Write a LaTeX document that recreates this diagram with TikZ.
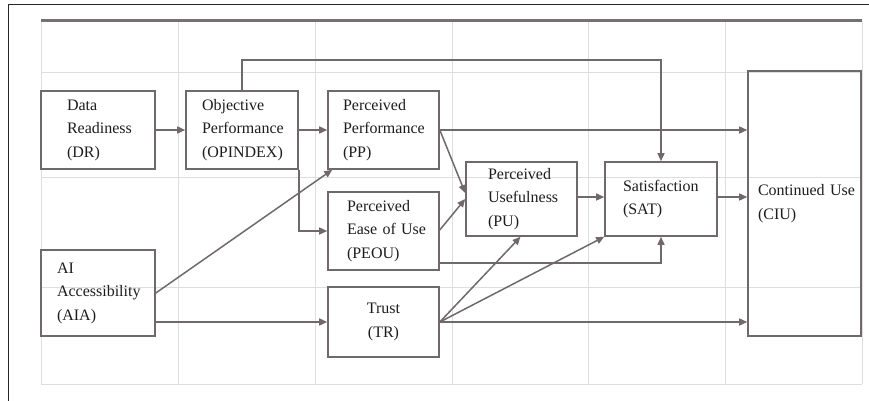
\documentclass[tikz,border=0pt]{standalone}
\usepackage{fontspec}
\setmainfont{Liberation Serif}
\usetikzlibrary{arrows.meta,calc}
\definecolor{boxgray}{RGB}{112,104,108}
\definecolor{gridgray}{RGB}{222,222,222}
\definecolor{rulegray}{RGB}{118,112,115}
\definecolor{inkgray}{RGB}{30,28,30}
\tikzset{
  box/.style={draw=boxgray, line width=1.6pt, text=inkgray,
    font=\fontsize{16}{23.5}\selectfont, align=left,
    inner xsep=0pt, inner ysep=0pt},
  cbox/.style={box, align=center},
  arr/.style={draw=boxgray, line width=1.5pt,
    -{Triangle[length=8pt,width=7pt]}},
  gridline/.style={draw=gridgray, line width=0.8pt},
}
% text set inside a box with a left indent
\newcommand{\indtext}[2]{\leftskip=#1pt\relax #2\par}
\begin{document}
\begin{tikzpicture}[x=1pt,y=-1pt]
\useasboundingbox (0,0) rectangle (869,401);
% page frame
\draw[line width=1pt, black!85] (8,401) -- (8,5) -- (869,5);
% background grid
\foreach \gx in {41,178,315,452,588,725,862}
  \draw[gridline] (\gx,21) -- (\gx,384);
\foreach \gy in {72,177,287,384}
  \draw[gridline] (41,\gy) -- (862,\gy);
\draw[draw=rulegray, line width=3pt] (41,21) -- (862,21);

% constructs
\node[box, minimum height=78pt, text width=114pt]
  (dr) at (98,130) {\indtext{26}{Data\\Readiness\\(DR)}};
\node[box, minimum height=78pt, text width=112pt]
  (op) at (242,130) {\indtext{16}{Objective\\Performance\\(OPINDEX)}};
\node[box, minimum height=78pt, text width=111pt]
  (pp) at (383.5,130) {\indtext{15}{Perceived\\Performance\\(PP)}};
\node[box, minimum height=78pt, text width=111pt]
  (peou) at (383.5,231) {\indtext{19}{Perceived\\Ease of Use\\(PEOU)}};
\node[cbox, minimum height=70pt, text width=111pt]
  (tr) at (383.5,322) {Trust\\(TR)};
\node[box, minimum height=86pt, text width=114pt]
  (aia) at (98,293) {\indtext{16}{AI\\Accessibility\\(AIA)}};
\node[box, minimum height=74pt, text width=111pt]
  (pu) at (521.5,199) {\indtext{22}{Perceived\\Usefulness\\(PU)}};
\node[box, minimum height=74pt, text width=112pt]
  (sat) at (661,199) {\indtext{18}{Satisfaction\\(SAT)}};
\node[box, minimum height=265pt, text width=113pt]
  (ciu) at (804.5,203.5) {\indtext{10}{Continued Use\\(CIU)}};

% paths
\draw[arr] (dr.east) -- (op.west);
\draw[arr] (op.east) -- (pp.west);
\draw[arr] (op.north) -- ++(0,-30) -| (sat.north);
\draw[arr] (op.south east) |- (peou.west);
\draw[arr] (aia.east) -- ($(pp.south west)+(5,0)$);
\draw[arr] (tr.west -| aia.east) -- (tr.west);
\draw[arr] (pp.east) -- (pp.east -| ciu.west);
\draw[arr] (pp.east) -- ($(pu.west)+(0,-6)$);
\draw[arr] ($(peou.east)+(0,-1)$) -- (pu.west);
\draw[arr] ($(peou.south east)+(0,-8)$) -| (sat.south);
\draw[arr] ($(pu.east)+(0,-2)$) -- ($(sat.west)+(0,-2)$);
\draw[arr] ($(sat.east)+(0,-2)$) -- ($(sat.east -| ciu.west)+(0,-2)$);
\draw[arr] (tr.east) -- ($(pu.south)+(-1,0)$);
\draw[arr] (tr.east) -- (sat.south west);
\draw[arr] (tr.east) -- (tr.east -| ciu.west);
\end{tikzpicture}
\end{document}
